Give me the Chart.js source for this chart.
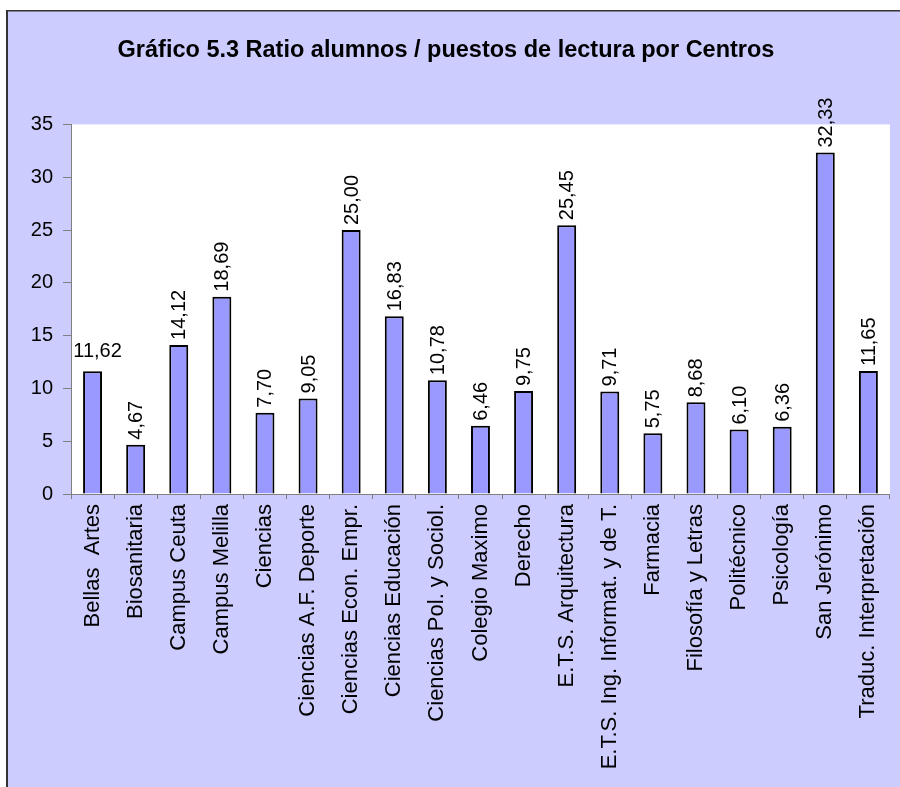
<!DOCTYPE html>
<html>
<head>
<meta charset="utf-8">
<script src="https://cdn.jsdelivr.net/npm/chart.js@4"></script>
<style>
  html, body { margin: 0; padding: 0; background: #fff; }
  #wrap { width: 900px; height: 787px; }
</style>
</head>
<body>
<div id="wrap"><canvas id="chart" width="900" height="787"></canvas></div>
<script>
const centros = [
    'Bellas  Artes', 'Biosanitaria', 'Campus Ceuta', 'Campus Melilla', 'Ciencias',
    'Ciencias A.F. Deporte', 'Ciencias Econ. Empr.', 'Ciencias Educación',
    'Ciencias Pol. y Sociol.', 'Colegio Maximo', 'Derecho', 'E.T.S. Arquitectura',
    'E.T.S. Ing. Informat. y de T.', 'Farmacia', 'Filosofía y Letras', 'Politécnico',
    'Psicología', 'San Jerónimo', 'Traduc. Interpretación'
];
const ratios = [
    11.62, 4.67, 14.12, 18.69, 7.70, 9.05, 25.00, 16.83, 10.78, 6.46,
    9.75, 25.45, 9.71, 5.75, 8.68, 6.10, 6.36, 32.33, 11.65
];
const yTicks = [0, 5, 10, 15, 20, 25, 30, 35];

const fmtNum = (n) => n.toFixed(2).replace('.', ',');

// fondo lavanda, marco y zona de trazado blanca
const backdrop = {
    id: 'backdrop',
    beforeDraw(chart) {
        const { ctx, chartArea: a, width, height } = chart;
        ctx.save();
        ctx.fillStyle = '#ffffff';
        ctx.fillRect(0, 0, width, height);
        ctx.fillStyle = '#ccccff';
        ctx.fillRect(7, 11, width - 7, height - 11);
        ctx.fillStyle = '#333333';
        ctx.fillRect(6, 10, 2, height - 10);
        ctx.fillRect(6, 10, width - 6, 1.5);
        ctx.fillStyle = '#ffffff';
        ctx.fillRect(a.left, a.top, a.right - a.left, a.bottom - a.top);
        ctx.restore();
    }
};

// etiquetas de valor encima de cada barra
const valueLabels = {
    id: 'valueLabels',
    afterDatasetsDraw(chart) {
        const { ctx } = chart;
        const meta = chart.getDatasetMeta(0);
        ctx.save();
        ctx.fillStyle = '#000';
        ctx.font = '20px "Liberation Sans", Arial, sans-serif';
        meta.data.forEach((bar, i) => {
            const txt = fmtNum(ratios[i]);
            if (i === 0) {
                ctx.textAlign = 'center';
                ctx.textBaseline = 'bottom';
                ctx.fillText(txt, bar.x + 5, bar.y - 10);
            } else {
                ctx.save();
                ctx.translate(bar.x + 1, bar.y - 5);
                ctx.rotate(-Math.PI / 2);
                ctx.textAlign = 'left';
                ctx.textBaseline = 'middle';
                ctx.fillText(txt, 0, 0);
                ctx.restore();
            }
        });
        ctx.restore();
    }
};

new Chart(document.getElementById('chart'), {
    type: 'bar',
    data: {
        labels: centros,
        datasets: [{
            data: ratios,
            backgroundColor: '#9999ff',
            borderColor: '#000000',
            borderWidth: 2,
            categoryPercentage: 1,
            barPercentage: 0.44
        }]
    },
    options: {
        responsive: false,
        animation: false,
        layout: { padding: { left: 0, right: 8, top: 0, bottom: 0 } },
        plugins: {
            legend: { display: false },
            tooltip: { enabled: false },
            title: {
                display: true,
                text: 'Gráfico 5.3 Ratio alumnos / puestos de lectura por Centros',
                color: '#000',
                font: { family: '"Liberation Sans", Arial, sans-serif', size: 23.5, weight: 'bold', lineHeight: 1.2 },
                padding: { top: 36, bottom: 60.2 }
            }
        },
        scales: {
            x: {
                offset: true,
                grid: { display: true, offset: true, drawOnChartArea: false, tickLength: 5, color: '#808080' },
                border: { display: true, color: '#808080', width: 1 },
                ticks: {
                    autoSkip: false,
                    maxRotation: 90,
                    minRotation: 90,
                    padding: 5,
                    color: '#000',
                    font: { family: '"Liberation Sans", Arial, sans-serif', size: 22 }
                },
                afterFit: (s) => { s.height = 293; }
            },
            y: {
                min: 0,
                max: 35,
                afterBuildTicks: (s) => { s.ticks = yTicks.map(v => ({ value: v })); },
                grid: { display: true, drawOnChartArea: false, tickLength: 8, color: '#808080' },
                border: { display: true, color: '#808080', width: 1 },
                ticks: {
                    padding: 10,
                    color: '#000',
                    font: { family: '"Liberation Sans", Arial, sans-serif', size: 20 }
                },
                afterFit: (s) => { s.width = 71; }
            }
        }
    },
    plugins: [backdrop, valueLabels]
});
</script>
</body>
</html>
